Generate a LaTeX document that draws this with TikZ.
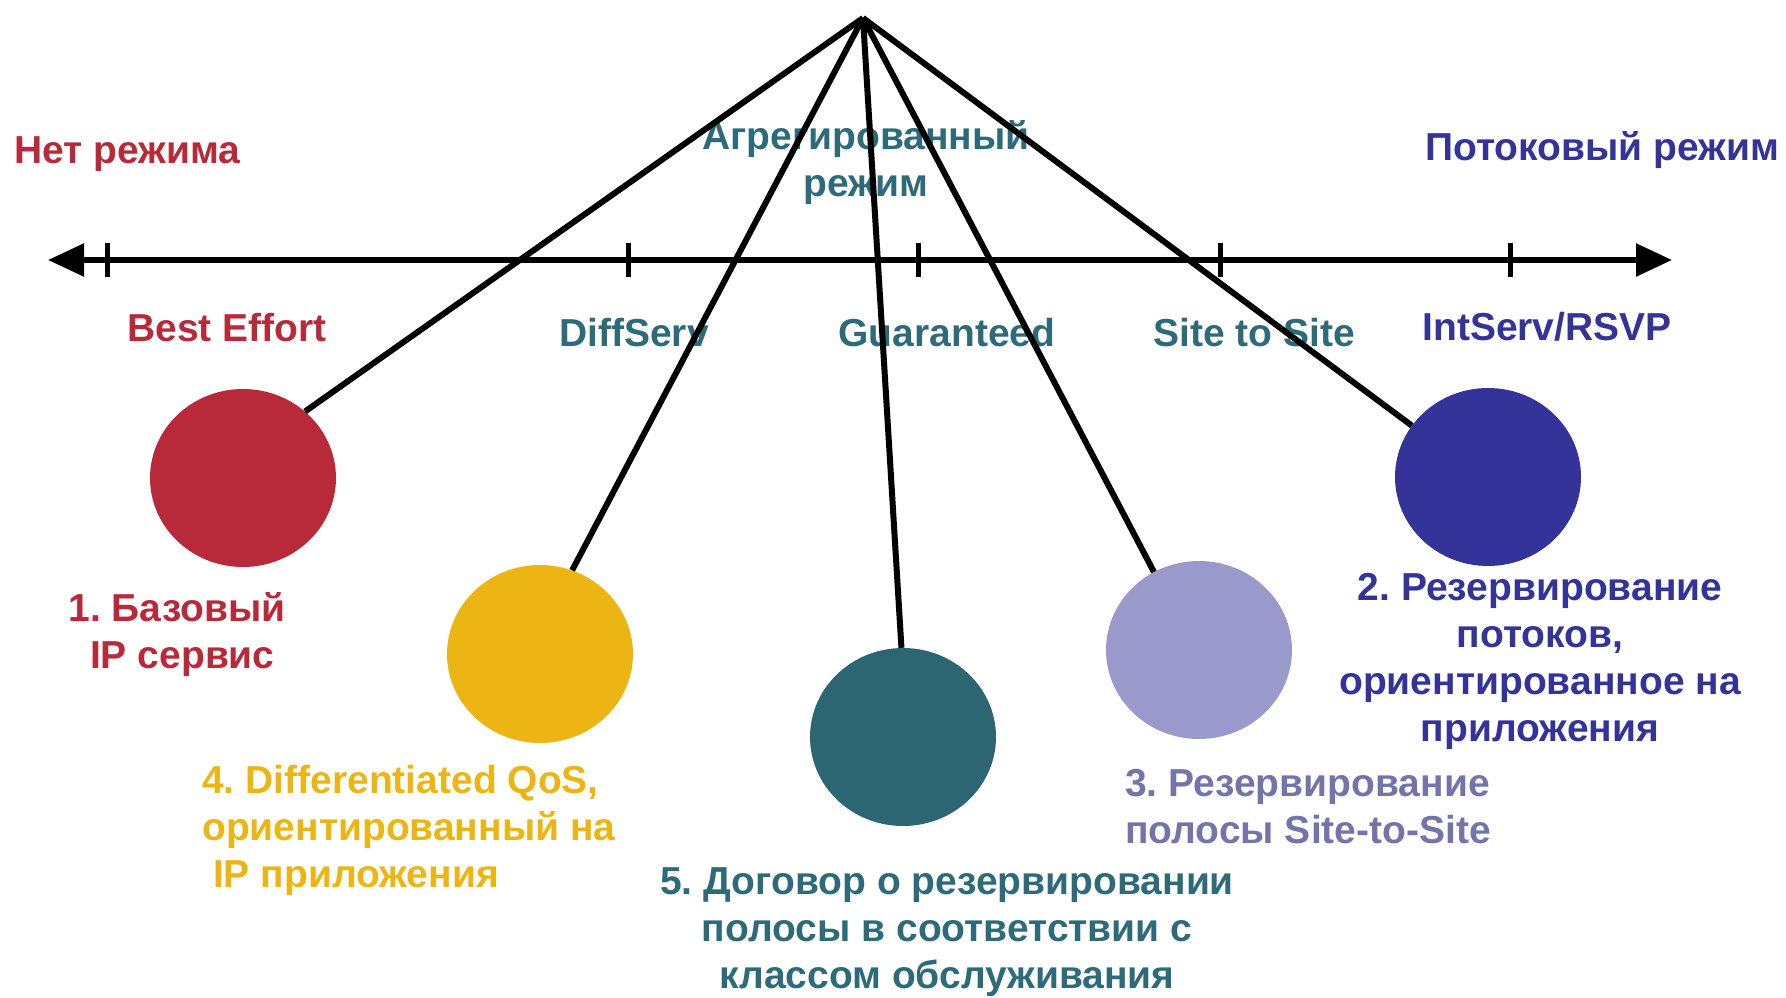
\documentclass[tikz,border=0pt]{standalone}
\usepackage{fontspec}
\setmainfont{Liberation Sans}
\usetikzlibrary{arrows.meta,shapes.geometric}
\definecolor{cred}{HTML}{B82A3A}
\definecolor{cyel}{HTML}{EDB514}
\definecolor{cteal}{HTML}{2D6673}
\definecolor{tteal}{HTML}{2E6B7A}
\definecolor{clav}{HTML}{9999CC}
\definecolor{tlav}{HTML}{7474AA}
\definecolor{cblue}{HTML}{333399}
\tikzset{
  ball/.style={ellipse,draw=none,inner sep=0pt,minimum width=186pt,minimum height=178pt},
  lbl/.style={font=\bfseries\fontsize{39}{47}\selectfont\frenchspacing,inner sep=0pt},
  wire/.style={line width=6pt,black},
  tick/.style={line width=5pt,black}
}
\begin{document}
\begin{tikzpicture}[x=1pt,y=-1pt]
\useasboundingbox (0,0) rectangle (1786,998);
% axis
\coordinate (axL) at (48,260);
\coordinate (axR) at (1672,260);
\draw[line width=5.5pt,{Triangle[length=36pt,width=32pt]}-{Triangle[length=36pt,width=32pt]}] (axL) -- (axR);
\foreach \x in {107,628,918,1220,1510}{\draw[tick] (\x,243) -- (\x,277);}
% top labels
\node[lbl,text=cred,anchor=west] (t1) at (14,154) {Нет режима};
\node[lbl,text=tteal,align=center] (t2) at (866,163) {Агрегированный\\режим};
\node[lbl,text=cblue,anchor=east] (t3) at (1779,150) {Потоковый режим};
\node[lbl,text=cred] (a1) at (227,328) {Best Effort};
\node[lbl,text=tteal] (a2) at (634,333) {DiffServ};
\node[lbl,text=tteal] (a3) at (947,333) {Guaranteed};
\node[lbl,text=tteal] (a4) at (1254,333) {Site to Site};
\node[lbl,text=cblue] (a5) at (1547,327) {IntServ/RSVP};
% circles
\node[ball,fill=cred] (c1) at (243,478) {};
\node[ball,fill=cyel] (c4) at (540,654) {};
\node[ball,fill=cteal] (c5) at (903,737) {};
\node[ball,fill=clav] (c3) at (1199,650) {};
\node[ball,fill=cblue] (c2) at (1488,477) {};
% circle labels
\node[lbl,text=cred,align=center] (l1) at (177,635) {1. Базовый\\\ IP сервис};
\node[lbl,text=cyel,align=left,anchor=west] (l4) at (202,830) {4. Differentiated QoS,\\ориентированный на\\\ IP приложения};
\node[lbl,text=tteal,align=center] (l5) at (947,932) {5. Договор о резервировании\\полосы в соответствии с\\классом обслуживания};
\node[lbl,text=tlav,align=left,anchor=west] (l3) at (1125,807) {3. Резервирование\\полосы Site-to-Site};
\node[lbl,text=cblue,align=center] (l2) at (1540,661) {2. Резервирование\\потоков,\\ориентированное на\\приложения};
% apex and wires
\coordinate (apex) at (863,18);
\draw[wire] (apex) -- (c1.47);
\draw[wire] (apex) -- (c4.69);
\draw[wire] (apex) -- (c5.91);
\draw[wire] (apex) -- (c3.120);
\draw[wire] (apex) -- (c2.146);
\end{tikzpicture}
\end{document}
